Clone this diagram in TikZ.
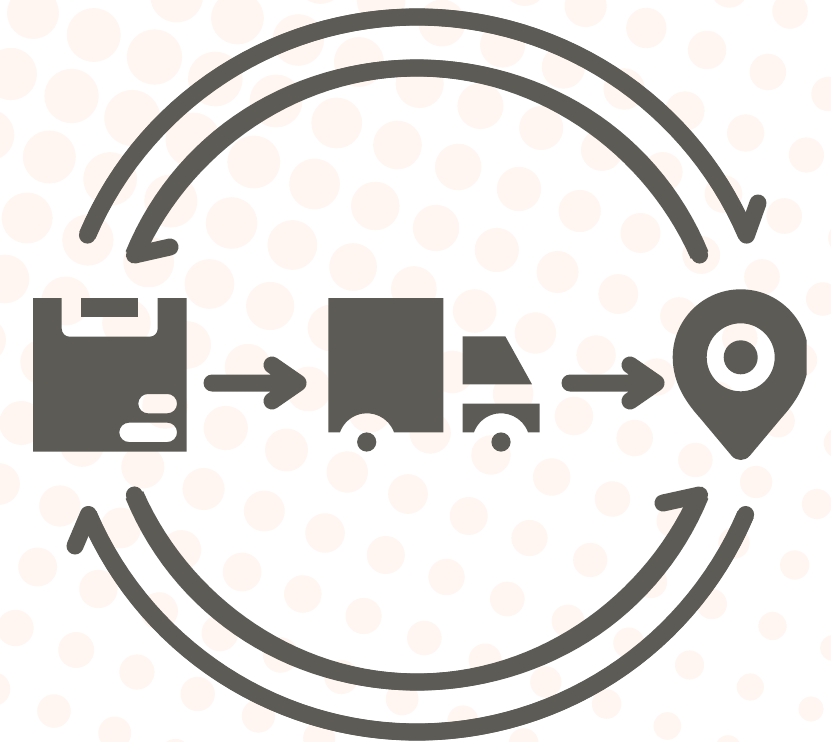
\documentclass[tikz,border=0pt]{standalone}
\usepackage{xcolor}
\definecolor{ink}{HTML}{5C5B56}
\definecolor{speck}{HTML}{FFF6F1}

\begin{document}
\begin{tikzpicture}[x=1pt,y=-1pt,
  ring/.style={draw=ink,line width=17pt,line cap=round,line join=round},
  icon/.style={fill=ink,even odd rule}]
\useasboundingbox (0,0) rectangle (831,742);

\begin{scope}
\clip (0,0) rectangle (831,742);
\foreach \i in {-4,...,17} {
  \foreach \j in {-4,...,13} {
    \pgfmathsetmacro{\dotx}{33+60.75*\i-22.2*\j}
    \pgfmathsetmacro{\doty}{13+22*\i+61*\j}
    \pgfmathsetmacro{\dotr}{max(28.5-0.0165*veclen(\dotx-150,1.15*(\doty-100)),1)}
    \fill[speck] (\dotx,\doty) circle (\dotr pt);
  }
}
\end{scope}

\fill[icon] (33,298) -- (61.7,298) -- (61.7,328.7) arc[start angle=180,end angle=270,radius=8pt]
  -- (149.7,336.7) arc[start angle=270,end angle=360,radius=8pt] -- (157.7,298) -- (186.7,298)
  -- (186.7,451.7) -- (33,451.7) -- cycle
  (147.95,394) arc[start angle=90,end angle=270,radius=9.65pt] -- (167.35,413.3)
  arc[start angle=-90,end angle=90,radius=9.65pt] -- cycle
  (128.95,422.7) arc[start angle=90,end angle=270,radius=9.65pt] -- (167.35,442)
  arc[start angle=-90,end angle=90,radius=9.65pt] -- cycle;
\fill[ink] (81,298) rectangle (138.3,317.3);

\fill[icon] (328.3,298) -- (443.3,298) -- (443.3,432.3) -- (394,432.3)
  arc[start angle=19.7,end angle=160.3,radius=28.7pt] -- (328.3,432.3) -- cycle;
\fill[icon] (462.7,336.3) -- (505.3,336.3) -- (532,384.3) -- (462.7,384.3) -- cycle;
\fill[icon] (462.7,403.7) -- (539.7,403.7) -- (539.7,432.3) -- (528,432.3)
  arc[start angle=19.7,end angle=160.3,radius=28.7pt] -- (462.7,432.3) -- cycle;
\fill[ink] (366.7,442) circle (9.6pt);
\fill[ink] (501,442) circle (9.6pt);

\begin{scope}
\clip (660,280) rectangle (806.7,470);
\fill[icon] (672.7,357.3) arc[start angle=180,end angle=0,radius=68pt]
  .. controls (808.7,385) and (793,405) .. (781.4,418)
  -- (750,455.5) .. controls (745,461.5) and (736.4,461.5) .. (731.4,455.5)
  -- (700,418) .. controls (688.4,405) and (672.7,385) .. (672.7,357.3) -- cycle
  (740.7,357.3) circle (34pt) (740.7,357.3) circle (17pt);
\end{scope}

\coordinate (hub) at (417,375);
\coordinate (crateout) at (212,383);
\coordinate (truckin) at (298,383);
\coordinate (truckout) at (570,383);
\coordinate (pinin) at (656,383);

\draw[ring] (crateout) -- (truckin) -- (272,365) (truckin) -- (272,401);
\draw[ring] (truckout) -- (pinin) -- (630,365) (pinin) -- (630,401);

\draw[ring] (hub) ++(157:358pt) arc[start angle=157,end angle=23,radius=358pt] -- (758,203);
\draw[ring] (hub) ++(23:307pt) arc[start angle=23,end angle=157,radius=307pt] -- (170,247);
\draw[ring] (hub) ++(-23:357pt) arc[start angle=-23,end angle=-157,radius=357pt] -- (75,546);
\draw[ring] (hub) ++(-157:307pt) arc[start angle=-157,end angle=-23,radius=307pt] -- (663,503);

\foreach \rad/\grow/\first/\last in {358/1/23/157,307/4/23/157,357/1/203/337,307/4/203/337} {
  \fill[ink] plot[domain=\first:\last,samples=60]
      ({417+(\rad+0.5*(17+\grow*sin(2*\x)*sin(2*\x)))*cos(\x)},{375-(\rad+0.5*(17+\grow*sin(2*\x)*sin(2*\x)))*sin(\x)})
    -- plot[domain=\last:\first,samples=60]
      ({417+(\rad-0.5*(17+\grow*sin(2*\x)*sin(2*\x)))*cos(\x)},{375-(\rad-0.5*(17+\grow*sin(2*\x)*sin(2*\x)))*sin(\x)})
    -- cycle;
}
\end{tikzpicture}
\end{document}
